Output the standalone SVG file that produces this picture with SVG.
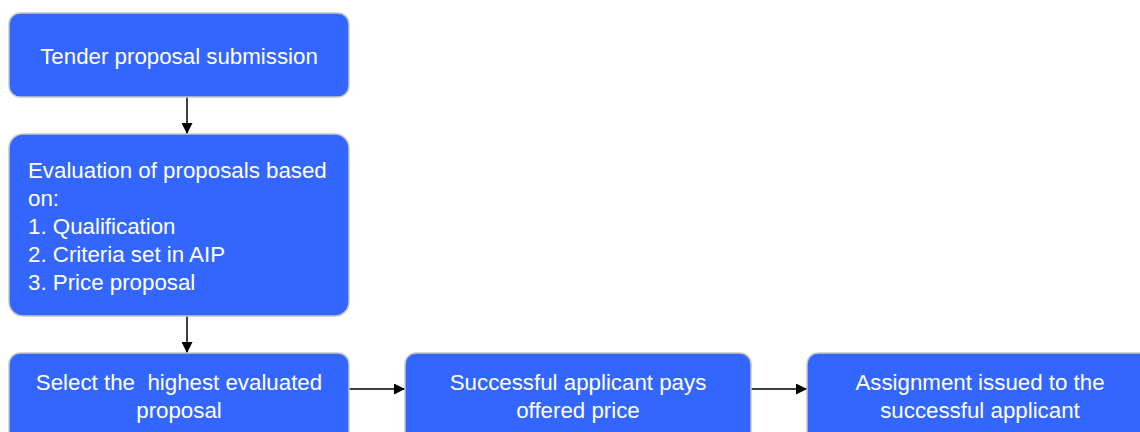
<svg xmlns="http://www.w3.org/2000/svg" width="1140" height="432" viewBox="0 0 1140 432">
<style>
.box{fill:#3366ff;stroke:#c8c8c8;stroke-width:1.5}
.t{font-family:"Liberation Sans",Arial,sans-serif;font-size:22.3px;fill:#ffffff}
.c{text-anchor:middle}
.edge{stroke:#000;stroke-width:1.5;fill:none}
</style>
<defs>
<marker id="ah" viewBox="0 0 10 10" refX="10" refY="5" markerWidth="11" markerHeight="11" markerUnits="userSpaceOnUse" orient="auto">
<path d="M0,0 L10,5 L0,10 Z" fill="#000"/>
</marker>
</defs>
<rect width="1140" height="432" fill="#ffffff"/>
<g id="connectors">
<line class="edge" x1="187" y1="97" x2="187" y2="134" marker-end="url(#ah)"/>
<line class="edge" x1="187" y1="316" x2="187" y2="353" marker-end="url(#ah)"/>
<line class="edge" x1="349" y1="389" x2="405" y2="389" marker-end="url(#ah)"/>
<line class="edge" x1="751" y1="389" x2="807" y2="389" marker-end="url(#ah)"/>
</g>
<g id="n1">
<rect class="box" x="9" y="13" width="340" height="84" rx="11"/>
<text class="t c" x="179" y="64">Tender proposal submission</text>
</g>
<g id="n2">
<rect class="box" x="9" y="134" width="340" height="182" rx="14"/>
<text class="t" x="28" y="178">Evaluation of proposals based</text>
<text class="t" x="28" y="206">on:</text>
<text class="t" x="28" y="234">1. Qualification</text>
<text class="t" x="28" y="262">2. Criteria set in AIP</text>
<text class="t" x="28" y="290">3. Price proposal</text>
</g>
<g id="n3">
<rect class="box" x="9" y="353" width="340" height="100" rx="11"/>
<text class="t c" x="179" y="390" xml:space="preserve">Select the  highest evaluated</text>
<text class="t c" x="179" y="418">proposal</text>
</g>
<g id="n4">
<rect class="box" x="405" y="353" width="346" height="100" rx="11"/>
<text class="t c" x="578" y="390">Successful applicant pays</text>
<text class="t c" x="578" y="418">offered price</text>
</g>
<g id="n5">
<rect class="box" x="807" y="353" width="345" height="100" rx="11"/>
<text class="t c" x="980" y="390">Assignment issued to the</text>
<text class="t c" x="980" y="418">successful applicant</text>
</g>
</svg>
